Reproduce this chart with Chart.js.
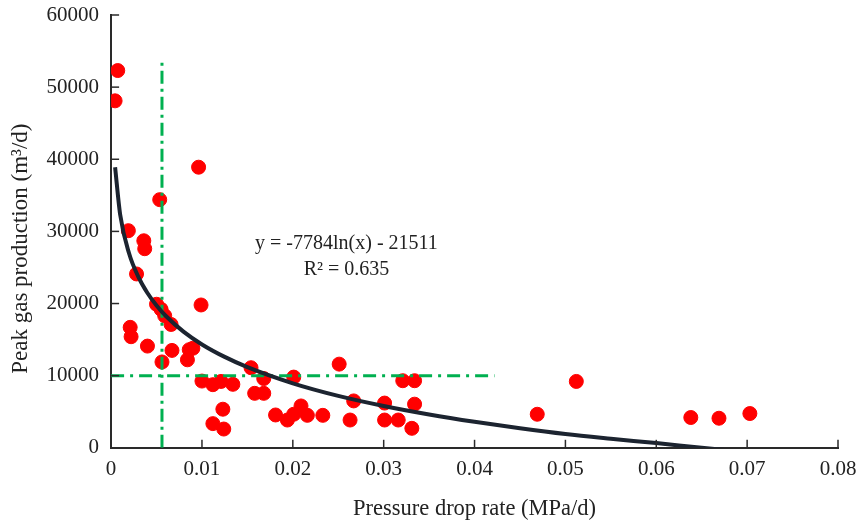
<!DOCTYPE html>
<html>
<head>
<meta charset="utf-8">
<script src="https://cdn.jsdelivr.net/npm/chart.js@4"></script>
<style>
  html, body { margin: 0; padding: 0; background: #fff; }
  #wrap { width: 858px; height: 522px; position: relative; }
</style>
</head>
<body>
<div id="wrap"><canvas id="peakChart"></canvas></div>
<script>
const pressureDrop = [
    0.00073, 0.00044, 0.00963, 0.00535, 0.0019, 0.0036, 0.0037, 0.0028,
    0.0050, 0.0055, 0.0059, 0.0066, 0.0099, 0.0021, 0.0022, 0.0040,
    0.0067, 0.0086, 0.0090, 0.0084, 0.0056, 0.0154, 0.0100, 0.0112,
    0.0121, 0.0134, 0.0168, 0.0201, 0.0158, 0.0168, 0.0123, 0.0112,
    0.0124, 0.0181, 0.0194, 0.0201, 0.0209, 0.0216, 0.0233, 0.0251,
    0.0321, 0.0334, 0.0267, 0.0263, 0.0301, 0.0334, 0.0301, 0.0316,
    0.0331, 0.0469, 0.0512, 0.0638, 0.0669, 0.0703
];
const peakGas = [
    52300, 48100, 38900, 34400, 30100, 28700, 27600, 24100,
    19900, 19200, 18300, 17100, 19800, 16700, 15400, 14100,
    13500, 13600, 13800, 12200, 11900, 11100, 9250, 8750,
    9200, 8800, 9600, 9800, 7550, 7550, 5350, 3350,
    2600, 4550, 3850, 4650, 5800, 4500, 4500, 11600,
    9300, 9300, 6500, 3850, 6200, 6050, 3850, 3850,
    2700, 4650, 9200, 4200, 4100, 4750
];

// log trend line, sampled along the drawn curve
const trendX = [0.00044, 0.001, 0.002, 0.003, 0.004, 0.005, 0.006, 0.008, 0.010, 0.0125,
    0.015, 0.020, 0.025, 0.030, 0.035, 0.040, 0.045, 0.050, 0.055, 0.060, 0.065, 0.070];
const trendY = [38900, 32300, 26860, 23700, 21460, 19730, 18310, 16070, 14330, 12600,
    11180, 8940, 7200, 5800, 4620, 3600, 2700, 1900, 1250, 650, 0, -600];

// green dash-dot threshold lines
const vLineX = [0.0056, 0.0056];
const vLineY = [0, 53500];
const hLineX = [0, 0.0422];
const hLineY = [10000, 10000];

const xTicksMax = 0.08;
const yTicksMax = 60000;

const fitText = ['y = -7784ln(x) - 21511', 'R² = 0.635'];
const fitAnchorX = 0.0259;
const fitAnchorY = [28300, 24700];

const serif = "'Liberation Serif', 'Times New Roman', serif";
const axisColor = '#2a2a2a';

const toPoints = (xs, ys) => xs.map((x, i) => ({ x: x, y: ys[i] }));

// inward tick marks + regression label
const extrasPlugin = {
    id: 'extras',
    afterDatasetsDraw(chart) {
        const ctx = chart.ctx;
        const xs = chart.scales.x;
        const ys = chart.scales.y;
        const area = chart.chartArea;
        ctx.save();
        ctx.strokeStyle = axisColor;
        ctx.lineWidth = 1.5;
        xs.ticks.forEach(t => {
            const px = xs.getPixelForValue(t.value);
            if (px <= area.left + 1) return;
            ctx.beginPath();
            ctx.moveTo(px, area.bottom);
            ctx.lineTo(px, area.bottom - 8);
            ctx.stroke();
        });
        ys.ticks.forEach(t => {
            const py = ys.getPixelForValue(t.value);
            if (py >= area.bottom - 1) return;
            ctx.beginPath();
            ctx.moveTo(area.left, py);
            ctx.lineTo(area.left + 8, py);
            ctx.stroke();
        });
        ctx.fillStyle = '#222';
        ctx.font = '20px ' + serif;
        ctx.textAlign = 'center';
        ctx.textBaseline = 'middle';
        fitText.forEach((txt, i) => {
            ctx.fillText(txt, xs.getPixelForValue(fitAnchorX), ys.getPixelForValue(fitAnchorY[i]));
        });
        ctx.restore();
    }
};

new Chart(document.getElementById('peakChart').getContext('2d'), {
    type: 'scatter',
    data: {
        datasets: [
            {
                label: 'trend',
                type: 'line',
                data: toPoints(trendX, trendY),
                borderColor: '#1c2430',
                borderWidth: 4,
                pointRadius: 0,
                fill: false,
                cubicInterpolationMode: 'monotone',
                order: 1
            },
            {
                label: 'v-threshold',
                type: 'line',
                data: toPoints(vLineX, vLineY),
                borderColor: '#00b050',
                borderWidth: 3,
                borderDash: [13, 5, 3, 5],
                pointRadius: 0,
                fill: false,
                order: 2
            },
            {
                label: 'h-threshold',
                type: 'line',
                data: toPoints(hLineX, hLineY),
                borderColor: '#00b050',
                borderWidth: 3,
                borderDash: [13, 6, 3, 6],
                pointRadius: 0,
                fill: false,
                order: 2
            },
            {
                label: 'wells',
                data: toPoints(pressureDrop, peakGas),
                backgroundColor: '#ff0000',
                borderColor: '#ff0000',
                pointRadius: 7,
                order: 3
            }
        ]
    },
    options: {
        responsive: true,
        maintainAspectRatio: false,
        animation: false,
        layout: {
            autoPadding: false,
            padding: { top: 15, left: 7, right: 20, bottom: -1 }
        },
        plugins: {
            legend: { display: false },
            tooltip: { enabled: false }
        },
        scales: {
            x: {
                type: 'linear',
                min: 0,
                max: xTicksMax,
                afterFit: s => { s.paddingLeft = 0; s.paddingRight = 0; },
                ticks: {
                    stepSize: 0.01,
                    color: '#222',
                    font: { family: serif, size: 21 },
                    padding: 9,
                    maxRotation: 0,
                    callback: v => String(+v.toFixed(2))
                },
                grid: { display: false, drawTicks: false },
                border: { display: true, color: axisColor, width: 2 },
                title: {
                    display: true,
                    text: 'Pressure drop rate (MPa/d)',
                    color: '#222',
                    font: { family: serif, size: 22.5 },
                    padding: { top: 5, bottom: 0 }
                }
            },
            y: {
                min: 0,
                max: yTicksMax,
                afterFit: s => { s.paddingTop = 0; s.paddingBottom = 0; },
                ticks: {
                    stepSize: 10000,
                    color: '#222',
                    font: { family: serif, size: 21 },
                    padding: 12,
                    callback: v => String(v)
                },
                grid: { display: false, drawTicks: false },
                border: { display: true, color: axisColor, width: 2 },
                title: {
                    display: true,
                    // trailing no-break spaces nudge the title down like the original
                    text: 'Peak gas production (m³/d)\u00a0\u00a0\u00a0\u00a0\u00a0\u00a0',
                    color: '#222',
                    font: { family: serif, size: 23 },
                    padding: { top: 0, bottom: 0 }
                }
            }
        }
    },
    plugins: [extrasPlugin]
});
</script>
</body>
</html>
